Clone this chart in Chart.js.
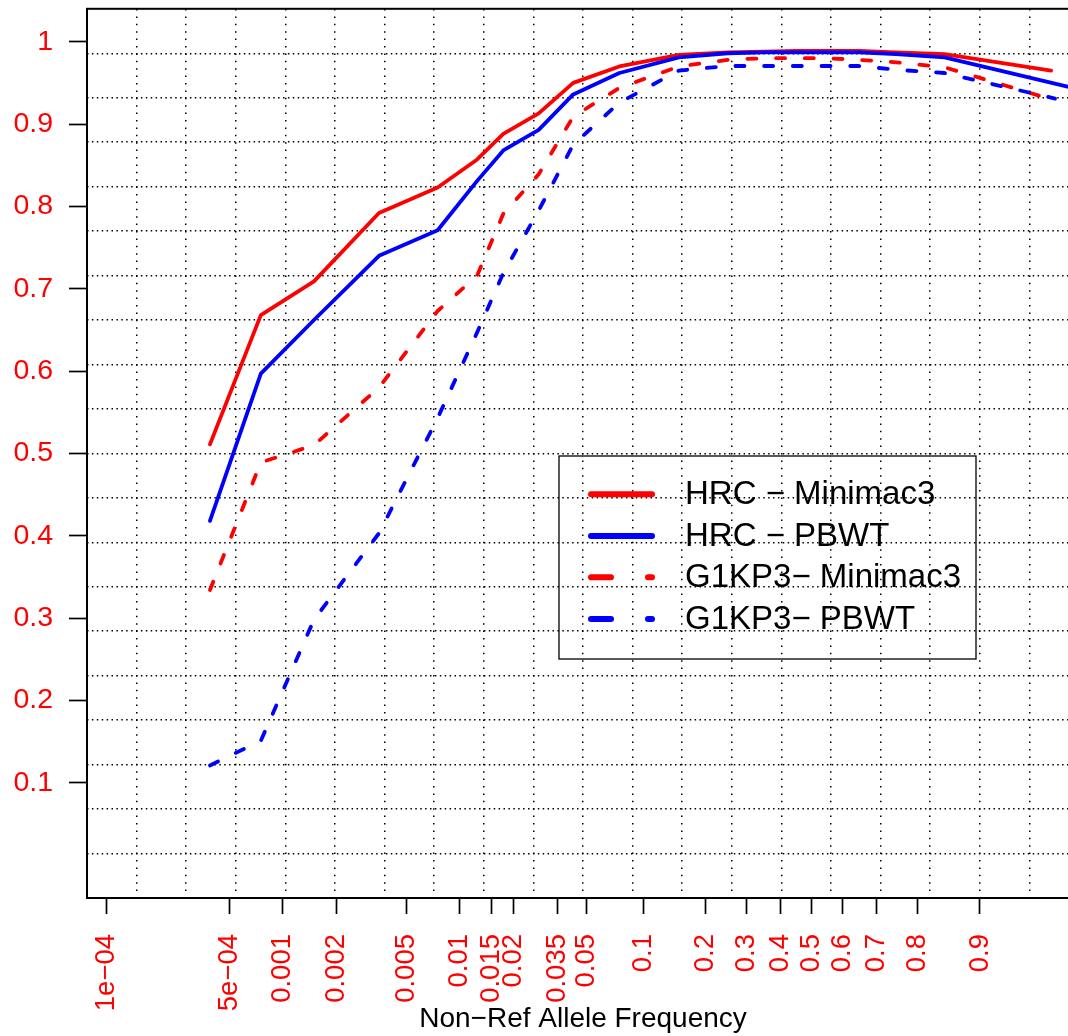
<!DOCTYPE html>
<html>
<head>
<meta charset="utf-8">
<script src="https://cdn.jsdelivr.net/npm/chart.js@4.4.0/dist/chart.umd.min.js"></script>
<style>
html,body{margin:0;padding:0;overflow:hidden;background:#ffffff;}
#wrap{width:1080px;height:1036px;}
</style>
</head>
<body>
<div id="wrap"><canvas id="c" width="1080" height="1036"></canvas></div>
<script>
// ---- data ----
const tickFreqs  = [0.0001, 0.0005, 0.001, 0.002, 0.005, 0.01, 0.015, 0.02, 0.035, 0.05, 0.1, 0.2, 0.3, 0.4, 0.5, 0.6, 0.7, 0.8, 0.9];
const tickLabels = ['1e\u221204', '5e\u221204', '0.001', '0.002', '0.005', '0.01', '0.015', '0.02', '0.035', '0.05', '0.1', '0.2', '0.3', '0.4', '0.5', '0.6', '0.7', '0.8', '0.9'];
const yTickValues = [0.1, 0.2, 0.3, 0.4, 0.5, 0.6, 0.7, 0.8, 0.9, 1.0];
const yTickLabels = ['0.1', '0.2', '0.3', '0.4', '0.5', '0.6', '0.7', '0.8', '0.9', '1'];

// bin frequencies shared by all series (last point differs per series)
const binFreqs = [0.000386, 0.00075, 0.0015, 0.0035, 0.0075, 0.0125, 0.0175, 0.0275, 0.0425, 0.075, 0.15, 0.25, 0.35, 0.45, 0.55, 0.65, 0.75, 0.85];
const endFreqs = [0.958, 0.968, 0.952, 0.960];

const seriesNames = ['HRC \u2212 Minimac3', 'HRC \u2212 PBWT', 'G1KP3\u2212 Minimac3', 'G1KP3\u2212 PBWT'];
const hrcMinimac3  = [0.511, 0.668, 0.709, 0.792, 0.823, 0.857, 0.888, 0.913, 0.950, 0.970, 0.984, 0.987, 0.988, 0.989, 0.989, 0.989, 0.987, 0.985, 0.965];
const hrcPbwt      = [0.418, 0.597, 0.662, 0.740, 0.771, 0.831, 0.868, 0.893, 0.936, 0.962, 0.981, 0.986, 0.987, 0.987, 0.987, 0.987, 0.985, 0.981, 0.944];
const g1kp3Minimac3 = [0.334, 0.489, 0.510, 0.580, 0.673, 0.716, 0.791, 0.839, 0.909, 0.944, 0.970, 0.978, 0.980, 0.980, 0.980, 0.978, 0.975, 0.969, 0.934];
const g1kp3Pbwt     = [0.121, 0.151, 0.298, 0.403, 0.543, 0.647, 0.719, 0.795, 0.875, 0.926, 0.965, 0.9705, 0.9705, 0.9705, 0.9705, 0.9705, 0.966, 0.962, 0.931];

// ---- helpers ----
const logit10 = f => Math.log10(f / (1 - f));
const X_MIN = -4.1106, X_MAX = 1.5162;
const Y_MIN = -0.04, Y_MAX = 1.04;
const FONT = "'Liberation Sans', Arial, Helvetica, sans-serif";
const RED = '#ff0000', BLUE = '#0000ff';

function pts(vals, endF) {
  const xs = binFreqs.concat([endF]);
  return vals.map((v, i) => ({x: logit10(xs[i]), y: v}));
}

const seriesVals = [hrcMinimac3, hrcPbwt, g1kp3Minimac3, g1kp3Pbwt];
const seriesColors = [RED, BLUE, RED, BLUE];
const seriesDashed = [false, false, true, true];

const datasets = seriesVals.map((vals, i) => ({
  label: seriesNames[i],
  data: pts(vals, endFreqs[i]),
  borderColor: seriesColors[i],
  backgroundColor: seriesColors[i],
  borderWidth: 3.8,
  borderDash: seriesDashed[i] ? [9, 19.7] : [],
  borderCapStyle: 'round',
  borderJoinStyle: 'round',
  pointRadius: 0,
  pointHoverRadius: 0,
  tension: 0,
  fill: false,
  clip: 0,
  order: 4 - i
}));

function zeroPad(scale) {
  scale.paddingTop = 0; scale.paddingBottom = 0;
  scale.paddingLeft = 0; scale.paddingRight = 0;
}

const framePlugin = {
  id: 'frameAndLegend',
  afterDraw(chart) {
    const ctx = chart.ctx, a = chart.chartArea;
    ctx.save();
    // plot frame
    ctx.strokeStyle = '#000';
    ctx.lineWidth = 2;
    ctx.setLineDash([]);
    ctx.strokeRect(a.left, a.top, a.right - a.left, a.bottom - a.top);
    // legend box
    const bx = 559, by = 456, bw = 417, bh = 203;
    ctx.lineWidth = 1.3;
    ctx.strokeRect(bx, by, bw, bh);
    const rowY = [494.3, 536, 577.3, 619];
    ctx.font = '33px ' + FONT;
    ctx.textBaseline = 'middle';
    ctx.textAlign = 'left';
    chart.data.datasets.forEach((ds, i) => {
      ctx.beginPath();
      ctx.lineWidth = 6;
      ctx.lineCap = 'round';
      ctx.strokeStyle = ds.borderColor;
      ctx.setLineDash(seriesDashed[i] ? [20, 37] : []);
      ctx.moveTo(591, rowY[i]);
      ctx.lineTo(652, rowY[i]);
      ctx.stroke();
      ctx.setLineDash([]);
      ctx.fillStyle = '#000';
      ctx.fillText(ds.label, 685, rowY[i] + 1);
    });
    ctx.restore();
  }
};

new Chart(document.getElementById('c'), {
  type: 'line',
  data: {datasets},
  plugins: [framePlugin],
  options: {
    responsive: false,
    devicePixelRatio: 1,
    animation: false,
    events: [],
    layout: {padding: {left: 0, right: 1, top: 8.8, bottom: 0}},
    plugins: {legend: {display: false}, tooltip: {enabled: false}, title: {display: false}},
    scales: {
      x: {
        type: 'linear',
        position: 'bottom',
        min: X_MIN, max: X_MAX,
        afterBuildTicks: s => { s.ticks = tickFreqs.map(f => ({value: logit10(f)})); },
        afterFit: s => { s.height = 138; zeroPad(s); },
        ticks: {
          autoSkip: false, minRotation: 90, maxRotation: 90,
          color: RED, padding: 20,
          font: {family: FONT, size: 27.5},
          callback: (v, i) => tickLabels[i]
        },
        grid: {display: true, drawOnChartArea: false, drawTicks: true, tickLength: 16, tickWidth: 1.7, tickColor: '#000'},
        border: {display: false},
        title: {display: true, text: 'Non\u2212Ref Allele Frequency', color: '#000',
                font: {family: FONT, size: 28}, padding: {top: 0, bottom: 0}}
      },
      xg: {
        type: 'linear',
        position: 'top',
        min: X_MIN, max: X_MAX,
        afterBuildTicks: s => { const t = []; for (let k = 1; k < 20; k++) t.push({value: X_MIN + k * (X_MAX - X_MIN) / 20}); s.ticks = t; },
        afterFit: s => { s.height = 0; zeroPad(s); },
        ticks: {display: false},
        grid: {display: true, drawOnChartArea: true, drawTicks: false, color: '#000', lineWidth: 1.5},
        border: {display: false, dash: [1.5, 5.9]}
      },
      y: {
        type: 'linear',
        position: 'left',
        min: Y_MIN, max: Y_MAX,
        afterBuildTicks: s => { s.ticks = yTickValues.map(v => ({value: v})); },
        afterFit: s => { s.width = 87; zeroPad(s); },
        ticks: {color: RED, padding: 16, font: {family: FONT, size: 28.5},
                callback: (v, i) => yTickLabels[i]},
        grid: {display: true, drawOnChartArea: false, drawTicks: true, tickLength: 18, tickWidth: 1.7, tickColor: '#000'},
        border: {display: false}
      },
      yg: {
        type: 'linear',
        position: 'right',
        min: Y_MIN, max: Y_MAX,
        afterBuildTicks: s => { const t = []; for (let k = 1; k < 20; k++) t.push({value: Y_MIN + k * (Y_MAX - Y_MIN) / 20}); s.ticks = t; },
        afterFit: s => { s.width = 0; zeroPad(s); },
        ticks: {display: false},
        grid: {display: true, drawOnChartArea: true, drawTicks: false, color: '#000', lineWidth: 1.5},
        border: {display: false, dash: [1.5, 3.4]}
      }
    }
  }
});
</script>
</body>
</html>
